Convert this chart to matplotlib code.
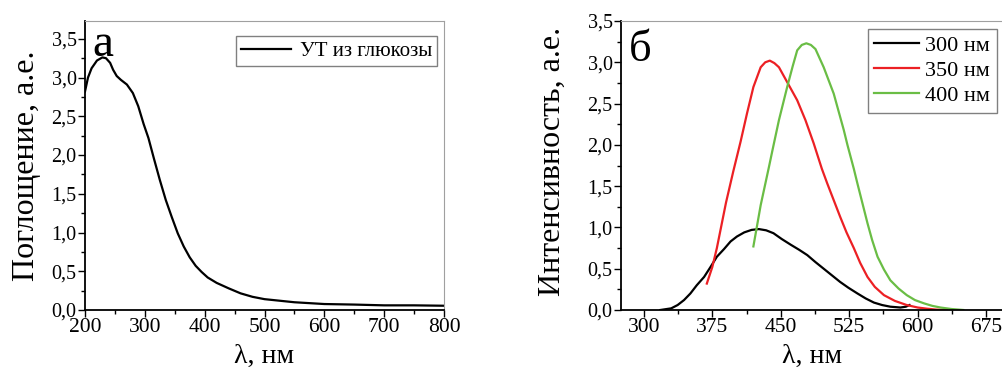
# -*- coding: utf-8 -*-

import numpy as np
import matplotlib
matplotlib.use('Agg')
import matplotlib.pyplot as plt
from matplotlib.ticker import MultipleLocator, FuncFormatter

plt.rcParams['font.family'] = ['Liberation Serif', 'DejaVu Serif']

# absorption spectrum
wl_abs = [200, 205, 211, 220, 229, 235, 242, 247, 253, 260, 270, 280, 289, 298,
          306, 315, 325, 335, 345, 355, 365, 375, 385, 395, 405, 420, 440, 460,
          480, 500, 550, 600, 650, 700, 750, 800]
absorb = [2.82, 3.00, 3.12, 3.22, 3.26, 3.25, 3.19, 3.10, 3.02, 2.97, 2.91, 2.80,
          2.63, 2.40, 2.22, 1.96, 1.68, 1.42, 1.20, 0.99, 0.82, 0.68, 0.57, 0.49,
          0.42, 0.35, 0.28, 0.215, 0.17, 0.14, 0.10, 0.077, 0.07, 0.06, 0.06, 0.055]

# emission spectra at three excitation wavelengths
wl_300 = [318, 330, 337, 344, 351, 358, 366, 373, 380, 388, 395, 402, 410, 418,
          426, 434, 442, 451, 461, 470, 479, 488, 497, 506, 515, 524, 534, 543,
          552, 561, 570, 581, 587, 591]
em_300 = [0.0, 0.02, 0.06, 0.12, 0.20, 0.30, 0.40, 0.52, 0.645, 0.74, 0.83, 0.89,
          0.94, 0.97, 0.98, 0.965, 0.93, 0.86, 0.79, 0.73, 0.665, 0.58, 0.50, 0.42,
          0.34, 0.27, 0.20, 0.14, 0.09, 0.06, 0.04, 0.03, 0.04, 0.06]

wl_350 = [369, 375, 380, 390, 398, 406, 413, 420, 428, 433, 438, 443, 448, 457,
          468, 477, 486, 495, 501, 508, 515, 522, 530, 537, 545, 553, 563, 575,
          588, 600, 610, 620, 632]
em_350 = [0.32, 0.52, 0.75, 1.30, 1.68, 2.04, 2.38, 2.70, 2.94, 3.00, 3.02, 2.99,
          2.94, 2.76, 2.54, 2.30, 2.02, 1.71, 1.53, 1.33, 1.13, 0.94, 0.75, 0.57,
          0.40, 0.28, 0.18, 0.11, 0.06, 0.03, 0.016, 0.005, 0.0]

wl_400 = [420, 428, 437, 441, 448, 457, 463, 468, 473, 478, 483, 488, 497, 508,
          519, 523, 530, 534, 545, 550, 556, 563, 570, 579, 588, 597, 607, 616,
          625, 637, 650]
em_400 = [0.77, 1.27, 1.73, 1.94, 2.30, 2.70, 2.95, 3.145, 3.21, 3.23, 3.21, 3.16,
          2.94, 2.62, 2.18, 2.00, 1.71, 1.53, 1.05, 0.85, 0.645, 0.49, 0.36, 0.26,
          0.18, 0.12, 0.08, 0.05, 0.03, 0.012, 0.0]

comma = FuncFormatter(lambda v, p: ('%.1f' % v).replace('.', ','))

W, H = 1002, 369
fig = plt.figure(figsize=(W/100, H/100), dpi=100)

def box(x0, x1, y0=21, y1=310):
    return [x0/W, 1 - y1/H, (x1 - x0)/W, (y1 - y0)/H]

def style(ax):
    for s in ['top', 'right']:
        ax.spines[s].set_color('#a0a0a0')
        ax.spines[s].set_linewidth(0.8)
    for s in ['left', 'bottom']:
        ax.spines[s].set_linewidth(1.3)
    ax.tick_params(which='both', direction='out', top=False, right=False, width=1.0)
    ax.tick_params(which='major', length=5)
    ax.tick_params(which='minor', length=3)
    ax.tick_params(axis='y', labelsize=14.5, pad=1)
    ax.tick_params(axis='x', labelsize=15.5, pad=1)
    ax.yaxis.set_major_formatter(comma)

def labels(ax, ylab, xpos, ypos):
    ax.set_xlabel('λ, нм', fontsize=20)
    ax.xaxis.set_label_coords(0.5, -0.118)
    ax.set_ylabel(ylab, fontsize=23)
    ax.yaxis.label.set_va('center')
    ax.yaxis.set_label_coords(xpos, ypos)

# panel a
ax1 = fig.add_axes(box(85, 444))
ax1.plot(wl_abs, absorb, color='k', lw=1.6, label='УТ из глюкозы')
ax1.set_xlim(200, 800)
ax1.set_ylim(0, 3.73)
ax1.xaxis.set_major_locator(MultipleLocator(100))
ax1.xaxis.set_minor_locator(MultipleLocator(50))
ax1.yaxis.set_major_locator(MultipleLocator(0.5))
ax1.yaxis.set_minor_locator(MultipleLocator(0.25))
style(ax1)
labels(ax1, 'Поглощение, а.е.', -0.164, 0.5)
ax1.text(0.02, 0.99, 'а', transform=ax1.transAxes, fontsize=34, va='top', ha='left')
leg1 = ax1.legend(loc='upper right', bbox_to_anchor=(437/W, 1 - 36/H),
                  bbox_transform=fig.transFigure, borderaxespad=0, fontsize=15,
                  fancybox=False, handlelength=2.4, handletextpad=0.4,
                  borderpad=0.25, framealpha=1)
leg1.get_frame().set_edgecolor('#808080')
leg1.get_frame().set_linewidth(1.0)

# panel b
ax2 = fig.add_axes(box(621, 1004))
ax2.plot(wl_300, em_300, color='k', lw=1.6, label='300 нм')
ax2.plot(wl_350, em_350, color='#ec2024', lw=1.6, label='350 нм')
ax2.plot(wl_400, em_400, color='#6abd45', lw=1.6, label='400 нм')
ax2.set_xlim(275, 694.5)
ax2.set_ylim(0, 3.5)
ax2.xaxis.set_major_locator(MultipleLocator(75))
ax2.xaxis.set_minor_locator(MultipleLocator(37.5))
ax2.yaxis.set_major_locator(MultipleLocator(0.5))
ax2.yaxis.set_minor_locator(MultipleLocator(0.25))
style(ax2)
labels(ax2, 'Интенсивность, а.е.', -0.178, 0.515)
ax2.text(0.02, 0.97, 'б', transform=ax2.transAxes, fontsize=32, va='top', ha='left')
leg2 = ax2.legend(loc='upper right', bbox_to_anchor=(997/W, 1 - 29/H),
                  bbox_transform=fig.transFigure, borderaxespad=0, fontsize=16,
                  fancybox=False, handlelength=2.0, handletextpad=0.3,
                  borderpad=0.3, labelspacing=0.2, framealpha=1)
leg2.get_frame().set_edgecolor('#808080')
leg2.get_frame().set_linewidth(1.0)

fig.savefig('out.png', dpi=100)
